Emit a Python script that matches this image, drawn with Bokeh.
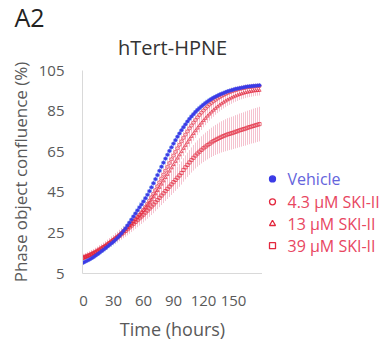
from bokeh.plotting import figure
from bokeh.layouts import row, column
from bokeh.models import Range1d, FixedTicker
from bokeh.core.properties import value
from bokeh.embed import file_html
from bokeh.resources import INLINE

hours = list(range(0, 178, 2))

vehicle = [10.4, 10.9, 11.4, 11.9, 12.5, 13.1, 13.8, 14.5, 15.2, 16.0,
           16.7, 17.5, 18.3, 19.1, 19.9, 20.7, 21.6, 22.6, 23.6, 24.8,
           26.0, 27.3, 28.7, 30.1, 31.6, 33.1, 34.6, 36.1, 37.6, 39.0,
           40.5, 42.1, 43.8, 45.6, 47.5, 49.5, 51.5, 53.5, 55.6, 57.6,
           59.6, 61.6, 63.5, 65.4, 67.2, 69.0, 70.7, 72.4, 74.0, 75.6,
           77.1, 78.5, 79.9, 81.2, 82.4, 83.5, 84.6, 85.6, 86.5, 87.4,
           88.2, 89.0, 89.7, 90.4, 91.0, 91.6, 92.1, 92.6, 93.1, 93.5,
           93.9, 94.3, 94.7, 95.0, 95.3, 95.6, 95.9, 96.1, 96.3, 96.5,
           96.7, 96.9, 97.1, 97.2, 97.3, 97.4, 97.5, 97.6, 97.7]
ski_4_3 = [12.8, 13.2, 13.6, 14.0, 14.5, 15.0, 15.5, 16.1, 16.7, 17.3,
           18.0, 18.7, 19.4, 20.1, 20.9, 21.7, 22.5, 23.3, 24.1, 25.0,
           25.9, 26.8, 27.7, 28.7, 29.7, 30.7, 31.8, 32.9, 34.0, 35.2,
           36.4, 37.8, 39.3, 40.9, 42.6, 44.3, 46.1, 48.0, 49.9, 51.8,
           53.7, 55.6, 57.5, 59.4, 61.3, 63.1, 64.9, 66.7, 68.4, 70.1,
           71.8, 73.4, 75.0, 76.5, 77.9, 79.3, 80.6, 81.9, 83.1, 84.2,
           85.3, 86.3, 87.3, 88.2, 89.0, 89.8, 90.5, 91.2, 91.8, 92.4,
           92.9, 93.4, 93.9, 94.3, 94.7, 95.0, 95.3, 95.6, 95.9, 96.1,
           96.3, 96.5, 96.7, 96.8, 96.9, 97.0, 97.1, 97.2, 97.3]
ski_13 = [12.5, 12.9, 13.3, 13.8, 14.3, 14.8, 15.3, 15.9, 16.5, 17.1,
          17.8, 18.5, 19.2, 19.9, 20.7, 21.5, 22.3, 23.1, 24.0, 24.9,
          25.8, 26.7, 27.6, 28.6, 29.6, 30.6, 31.6, 32.7, 33.8, 34.9,
          36.0, 37.2, 38.5, 39.8, 41.2, 42.7, 44.2, 45.8, 47.4, 49.0,
          50.6, 52.2, 53.8, 55.4, 57.0, 58.6, 60.2, 61.8, 63.4, 65.0,
          66.6, 68.1, 69.6, 71.1, 72.5, 73.9, 75.3, 76.6, 77.9, 79.1,
          80.3, 81.4, 82.5, 83.5, 84.5, 85.4, 86.3, 87.1, 87.9, 88.6,
          89.3, 89.9, 90.5, 91.0, 91.5, 92.0, 92.4, 92.8, 93.2, 93.5,
          93.8, 94.1, 94.3, 94.5, 94.7, 94.9, 95.0, 95.1, 95.2]
ski_39 = [12.9, 13.3, 13.7, 14.1, 14.6, 15.1, 15.6, 16.2, 16.8, 17.4,
          18.0, 18.6, 19.3, 20.0, 20.7, 21.4, 22.1, 22.8, 23.6, 24.4,
          25.2, 26.0, 26.8, 27.7, 28.6, 29.5, 30.4, 31.3, 32.2, 33.1,
          34.0, 35.0, 36.0, 37.0, 38.0, 39.0, 40.1, 41.2, 42.3, 43.4,
          44.5, 45.6, 46.7, 47.8, 48.9, 50.0, 51.1, 52.2, 53.3, 54.5,
          56.0, 57.3, 58.5, 59.7, 60.9, 62.0, 63.1, 64.1, 65.0, 65.9,
          66.7, 67.5, 68.2, 68.9, 69.6, 70.2, 70.8, 71.3, 71.8, 72.3,
          72.7, 73.1, 73.5, 73.8, 74.1, 74.4, 74.8, 75.1, 75.5, 75.8,
          76.1, 76.4, 76.8, 77.1, 77.4, 77.7, 78.0, 78.3, 78.6]

vehicle_err = [1.2, 1.2, 1.2, 1.3, 1.3, 1.3, 1.4, 1.4, 1.5, 1.5,
               1.6, 1.6, 1.7, 1.7, 1.8, 1.8, 1.9, 1.9, 2.0, 2.0,
               2.1, 2.1, 2.2, 2.2, 2.3, 2.3, 2.4, 2.4, 2.5, 2.5,
               2.5, 2.6, 2.6, 2.6, 2.7, 2.7, 2.7, 2.7, 2.7, 2.7,
               2.6, 2.6, 2.5, 2.5, 2.4, 2.4, 2.3, 2.3, 2.2, 2.2,
               2.1, 2.1, 2.0, 2.0, 1.9, 1.9, 1.8, 1.8, 1.7, 1.7,
               1.6, 1.6, 1.5, 1.5, 1.5, 1.4, 1.4, 1.4, 1.3, 1.3,
               1.3, 1.2, 1.2, 1.2, 1.2, 1.1, 1.1, 1.1, 1.1, 1.0,
               1.0, 1.0, 1.0, 1.0, 1.0, 1.0, 1.0, 1.0, 1.0]
ski_4_3_err = [1.5, 1.5, 1.6, 1.6, 1.7, 1.7, 1.8, 1.8, 1.9, 1.9,
               2.0, 2.0, 2.1, 2.1, 2.2, 2.2, 2.3, 2.3, 2.4, 2.4,
               2.5, 2.5, 2.6, 2.6, 2.7, 2.7, 2.8, 2.8, 2.9, 2.9,
               3.0, 3.0, 3.1, 3.1, 3.2, 3.2, 3.3, 3.3, 3.3, 3.3,
               3.3, 3.3, 3.3, 3.3, 3.2, 3.2, 3.2, 3.1, 3.1, 3.0,
               3.0, 2.9, 2.9, 2.8, 2.8, 2.7, 2.7, 2.6, 2.6, 2.5,
               2.5, 2.4, 2.4, 2.3, 2.3, 2.2, 2.2, 2.1, 2.1, 2.0,
               2.0, 2.0, 1.9, 1.9, 1.9, 1.8, 1.8, 1.8, 1.7, 1.7,
               1.7, 1.7, 1.6, 1.6, 1.6, 1.6, 1.5, 1.5, 1.5]
ski_13_err = [1.6, 1.6, 1.7, 1.7, 1.8, 1.8, 1.9, 1.9, 2.0, 2.0,
              2.1, 2.1, 2.2, 2.2, 2.3, 2.3, 2.4, 2.4, 2.5, 2.5,
              2.6, 2.6, 2.7, 2.7, 2.8, 2.8, 2.9, 2.9, 3.0, 3.0,
              3.1, 3.1, 3.2, 3.2, 3.3, 3.3, 3.4, 3.4, 3.5, 3.5,
              3.6, 3.6, 3.6, 3.7, 3.7, 3.7, 3.7, 3.7, 3.7, 3.7,
              3.7, 3.6, 3.6, 3.6, 3.5, 3.5, 3.5, 3.4, 3.4, 3.4,
              3.3, 3.3, 3.3, 3.2, 3.2, 3.2, 3.1, 3.1, 3.1, 3.0,
              3.0, 3.0, 2.9, 2.9, 2.9, 2.8, 2.8, 2.8, 2.7, 2.7,
              2.7, 2.7, 2.6, 2.6, 2.6, 2.6, 2.5, 2.5, 2.5]
ski_39_err = [1.8, 1.8, 1.9, 1.9, 2.0, 2.0, 2.1, 2.1, 2.2, 2.2,
              2.3, 2.3, 2.4, 2.4, 2.5, 2.5, 2.6, 2.6, 2.7, 2.7,
              2.8, 2.9, 3.0, 3.1, 3.2, 3.3, 3.4, 3.5, 3.6, 3.7,
              3.8, 3.9, 4.0, 4.1, 4.2, 4.3, 4.4, 4.5, 4.6, 4.7,
              4.8, 4.9, 5.0, 5.1, 5.2, 5.3, 5.4, 5.5, 5.6, 5.7,
              5.8, 5.9, 6.0, 6.1, 6.2, 6.3, 6.4, 6.5, 6.6, 6.7,
              6.8, 6.9, 7.0, 7.1, 7.2, 7.3, 7.4, 7.5, 7.6, 7.7,
              7.8, 7.9, 8.0, 8.0, 8.1, 8.1, 8.2, 8.2, 8.3, 8.3,
              8.3, 8.4, 8.4, 8.4, 8.4, 8.5, 8.5, 8.5, 8.5]

panel_label = "A2"
chart_title = "hTert-HPNE"
series_labels = ["Vehicle", "4.3 μM SKI-II", "13 μM SKI-II", "39 μM SKI-II"]
x_ticks = [0, 30, 60, 90, 120, 150]
y_ticks = [5, 25, 45, 65, 85, 105]

FONT = "Open Sans"
BLUE = "#3b3be6"
RED = "#e3283e"
GRAY = "#595959"


def bare(fig):
    fig.axis.visible = False
    fig.xgrid.visible = False
    fig.ygrid.visible = False
    fig.outline_line_color = None
    fig.border_fill_color = "white"
    fig.background_fill_color = "white"


# --- header strip: panel letter and chart title (canvas-pixel coordinates)
top = figure(width=387, height=60, output_backend="svg", toolbar_location=None,
             x_range=Range1d(0, 387), y_range=Range1d(60, 0),
             min_border_left=0, min_border_right=0, min_border_top=0, min_border_bottom=0)
bare(top)
top.text(x=[14], y=[16], text=[panel_label], text_font=value(FONT), text_font_size="25px",
         text_color="#222222", text_baseline="middle", text_align="left")
top.text(x=[172], y=[47], text=[chart_title], text_font=value(FONT), text_font_size="20px",
         text_color="#333333", text_baseline="middle", text_align="center")

# --- main chart
p = figure(width=262, height=283, output_backend="svg", toolbar_location=None,
           x_range=Range1d(-1, 179), y_range=Range1d(5, 105),
           min_border_left=82, min_border_right=0, min_border_top=10, min_border_bottom=69)
p.outline_line_color = None
p.xgrid.visible = False
p.ygrid.visible = False
p.background_fill_color = "white"
p.border_fill_color = "white"

for ax in (p.xaxis[0], p.yaxis[0]):
    ax.axis_line_color = "#d9d9d9"
    ax.axis_line_width = 1
    ax.major_tick_line_color = None
    ax.minor_tick_line_color = None
    ax.major_tick_out = 0
    ax.major_tick_in = 0
    ax.major_label_text_font = FONT
    ax.major_label_text_font_size = "15px"
    ax.major_label_text_color = GRAY
    ax.axis_label_text_font = FONT
    ax.axis_label_text_font_style = "normal"
    ax.axis_label_text_color = GRAY

p.xaxis.ticker = FixedTicker(ticks=x_ticks)
p.yaxis.ticker = FixedTicker(ticks=y_ticks)
p.xaxis.major_label_standoff = 22
p.yaxis.major_label_standoff = 18
p.xaxis.axis_label = "Time (hours)"
p.xaxis.axis_label_text_font_size = "18px"
p.xaxis.axis_label_standoff = 8
p.yaxis.axis_label = "Phase object confluence (%)"
p.yaxis.axis_label_text_font_size = "17px"
p.yaxis.axis_label_standoff = 4

means = [vehicle, ski_4_3, ski_13, ski_39]
errs = [vehicle_err, ski_4_3_err, ski_13_err, ski_39_err]
err_colors = ["#a9d2f4", "#f2b3c3", "#f2b3c3", "#f2b3c3"]

for m, e, c in zip(means[::-1], errs[::-1], err_colors[::-1]):
    lo = [a - b for a, b in zip(m, e)]
    hi = [a + b for a, b in zip(m, e)]
    p.segment(x0=hours, y0=lo, x1=hours, y1=hi, line_color=c, line_alpha=0.8, line_width=1)

styles = [
    dict(marker="circle", fill_color=BLUE, fill_alpha=1.0, line_color=BLUE),
    dict(marker="circle", fill_color="white", fill_alpha=0, line_color=RED),
    dict(marker="triangle", fill_color="white", fill_alpha=0, line_color=RED),
    dict(marker="square", fill_color="white", fill_alpha=0, line_color=RED),
]
for m, st in list(zip(means, styles))[::-1]:
    p.scatter(hours, m, size=3.2, line_width=0.7, **st)

# --- legend panel (canvas-pixel coordinates, frame aligned with the chart's frame)
lg = figure(width=125, height=283, output_backend="svg", toolbar_location=None,
            x_range=Range1d(262, 387), y_range=Range1d(274, 70),
            min_border_left=0, min_border_right=0, min_border_top=10, min_border_bottom=69)
bare(lg)

leg_x_marker = 272
leg_x_text = 287
leg_rows = [179, 202, 224, 246]
leg_text_colors = ["#6464dc", "#e8465f", "#e8465f", "#e8465f"]
for yy, st in zip(leg_rows, styles):
    lg.scatter([leg_x_marker], [yy], size=6, line_width=1.3, **st)
lg.text(x=[leg_x_text] * 4, y=leg_rows, text=series_labels, text_color=leg_text_colors,
        text_font=value(FONT), text_font_size="16px", text_baseline="middle", text_align="left")

layout = column(top, row(p, lg))
open("out.html", "w").write(file_html(layout, INLINE))
